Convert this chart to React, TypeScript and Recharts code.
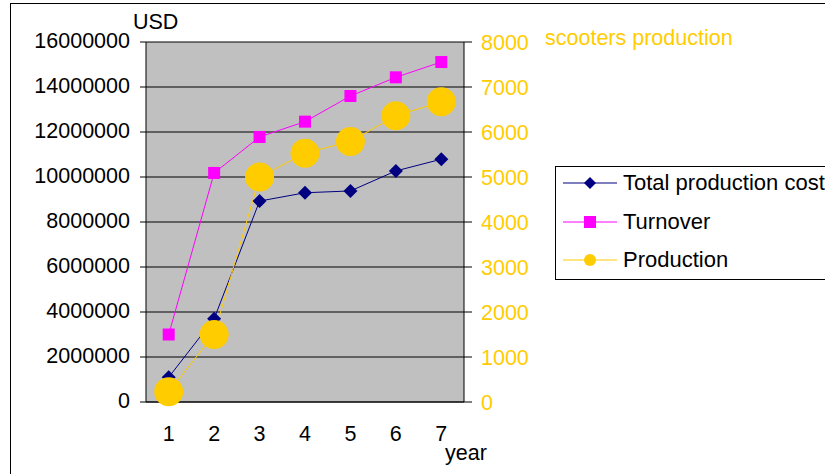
import React from 'react';
import { ComposedChart, Line, XAxis, YAxis, CartesianGrid } from 'recharts';

const years = ['1', '2', '3', '4', '5', '6', '7'];
const totalCost = [1100000, 3700000, 8930000, 9300000, 9380000, 10270000, 10790000];
const turnover = [3000000, 10180000, 11780000, 12460000, 13600000, 14430000, 15110000];
const production = [230, 1500, 5000, 5530, 5790, 6360, 6670];
const usdTicks = [0, 2000000, 4000000, 6000000, 8000000, 10000000, 12000000, 14000000, 16000000];
const unitTicks = [0, 1000, 2000, 3000, 4000, 5000, 6000, 7000, 8000];

const NAVY = '#000080';
const MAGENTA = '#FF00FF';
const GOLD = '#FFCC00';
const FONT = '"Liberation Sans", Arial, sans-serif';

const data = years.map((year, i) => ({
  year,
  totalCost: totalCost[i],
  turnover: turnover[i],
  production: production[i],
}));

// tick marks sit on the category boundaries, like Excel does
const edgeTicks = years.map((_, i) => i).concat(years.length);

const DiamondDot = (props: any) => {
  const { cx, cy, index } = props;
  if (cx == null || cy == null) return null;
  return (
    <polygon
      key={`d-${index}`}
      points={`${cx},${cy - 7} ${cx + 7},${cy} ${cx},${cy + 7} ${cx - 7},${cy}`}
      fill={NAVY}
    />
  );
};

const SquareDot = (props: any) => {
  const { cx, cy, index } = props;
  if (cx == null || cy == null) return null;
  return <rect key={`s-${index}`} x={cx - 6} y={cy - 6} width={12} height={12} fill={MAGENTA} />;
};

const CircleDot = (props: any) => {
  const { cx, cy, index } = props;
  if (cx == null || cy == null) return null;
  return <circle key={`c-${index}`} cx={cx} cy={cy} r={14.5} fill={GOLD} />;
};

const legendRows = [
  { name: 'Total production cost', color: NAVY, shape: 'diamond' },
  { name: 'Turnover', color: MAGENTA, shape: 'square' },
  { name: 'Production', color: GOLD, shape: 'circle' },
];

const LegendBox = () => (
  <div
    style={{
      position: 'absolute',
      left: 555,
      top: 166,
      width: 290,
      height: 114,
      border: '1px solid #000',
      background: '#fff',
      boxSizing: 'border-box',
    }}
  >
    {legendRows.map((row, i) => (
      <div
        key={row.name}
        style={{
          position: 'absolute',
          left: 0,
          top: 16 + i * 38.5 - 19,
          height: 38,
          display: 'flex',
          alignItems: 'center',
        }}
      >
        <svg width={67} height={20} style={{ flex: 'none' }}>
          <line x1={7} y1={10} x2={61} y2={10} stroke={row.color} strokeWidth={1} />
          {row.shape === 'diamond' && <polygon points="34,4 40,10 34,16 28,10" fill={row.color} />}
          {row.shape === 'square' && <rect x={28} y={4} width={12} height={12} fill={row.color} />}
          {row.shape === 'circle' && <circle cx={34} cy={10} r={6} fill={row.color} />}
        </svg>
        <span style={{ fontFamily: FONT, fontSize: 22, color: '#000', whiteSpace: 'nowrap' }}>{row.name}</span>
      </div>
    ))}
  </div>
);

export default function App() {
  return (
    <div style={{ position: 'absolute', left: 0, top: 0, width: 825, height: 474, overflow: 'hidden', background: '#fff' }}>
      <div
        style={{
          position: 'absolute',
          left: 10,
          top: 3,
          width: 830,
          height: 480,
          borderLeft: '1px solid #000',
          borderTop: '1px solid #000',
        }}
      />
      <ComposedChart
        width={825}
        height={474}
        data={data}
        margin={{ top: 42, right: 281, bottom: 32, left: 0 }}
        style={{ position: 'absolute', left: 0, top: 0, fontFamily: FONT }}
      >
        <CartesianGrid yAxisId="usd" vertical={false} stroke="#000" fill="#C0C0C0" fillOpacity={1} />
        {/* axis 0 sits right under the plot: boundary ticks + axis line */}
        <XAxis
          xAxisId={0}
          type="number"
          domain={[0, years.length]}
          ticks={edgeTicks}
          interval={0}
          allowDataOverflow
          tick={false}
          axisLine={{ stroke: '#000' }}
          tickLine={{ stroke: '#000' }}
          tickSize={6}
          height={1}
        />
        <XAxis
          xAxisId={1}
          dataKey="year"
          scale="band"
          axisLine={false}
          tickLine={false}
          tickSize={6}
          tickMargin={17}
          height={39}
          tick={{ fill: '#000', fontSize: 21.5, fontFamily: FONT }}
        />
        <YAxis
          yAxisId="usd"
          width={146}
          domain={[0, 16000000]}
          ticks={usdTicks}
          interval={0}
          axisLine={{ stroke: '#000' }}
          tickLine={{ stroke: '#000' }}
          tickSize={6}
          tickMargin={10}
          tick={{ fill: '#000', fontSize: 21.5, fontFamily: FONT, dy: -1.5 }}
        />
        <YAxis
          yAxisId="units"
          orientation="right"
          width={80}
          domain={[0, 8000]}
          ticks={unitTicks}
          interval={0}
          axisLine={{ stroke: '#000' }}
          tickLine={{ stroke: '#000' }}
          tickSize={8}
          tickMargin={9}
          tick={{ fill: GOLD, fontSize: 21.5, fontFamily: FONT }}
        />
        <Line
          xAxisId={1}
          yAxisId="usd"
          type="linear"
          dataKey="totalCost"
          name="Total production cost"
          stroke={NAVY}
          strokeWidth={1}
          dot={DiamondDot}
          activeDot={false}
          isAnimationActive={false}
        />
        <Line
          xAxisId={1}
          yAxisId="usd"
          type="linear"
          dataKey="turnover"
          name="Turnover"
          stroke={MAGENTA}
          strokeWidth={1}
          dot={SquareDot}
          activeDot={false}
          isAnimationActive={false}
        />
        <Line
          xAxisId={1}
          yAxisId="units"
          type="linear"
          dataKey="production"
          name="Production"
          stroke={GOLD}
          strokeWidth={1}
          dot={CircleDot}
          activeDot={false}
          isAnimationActive={false}
        />
      </ComposedChart>
      <LegendBox />
      <svg
        width={825}
        height={474}
        style={{ position: 'absolute', left: 0, top: 0, pointerEvents: 'none' }}
        fontFamily={FONT}
        fontSize={21.5}
      >
        <text x={133} y={29} fill="#000">USD</text>
        <text x={545} y={45} fill={GOLD}>scooters production</text>
        <text x={445} y={460} fill="#000">year</text>
      </svg>
    </div>
  );
}
